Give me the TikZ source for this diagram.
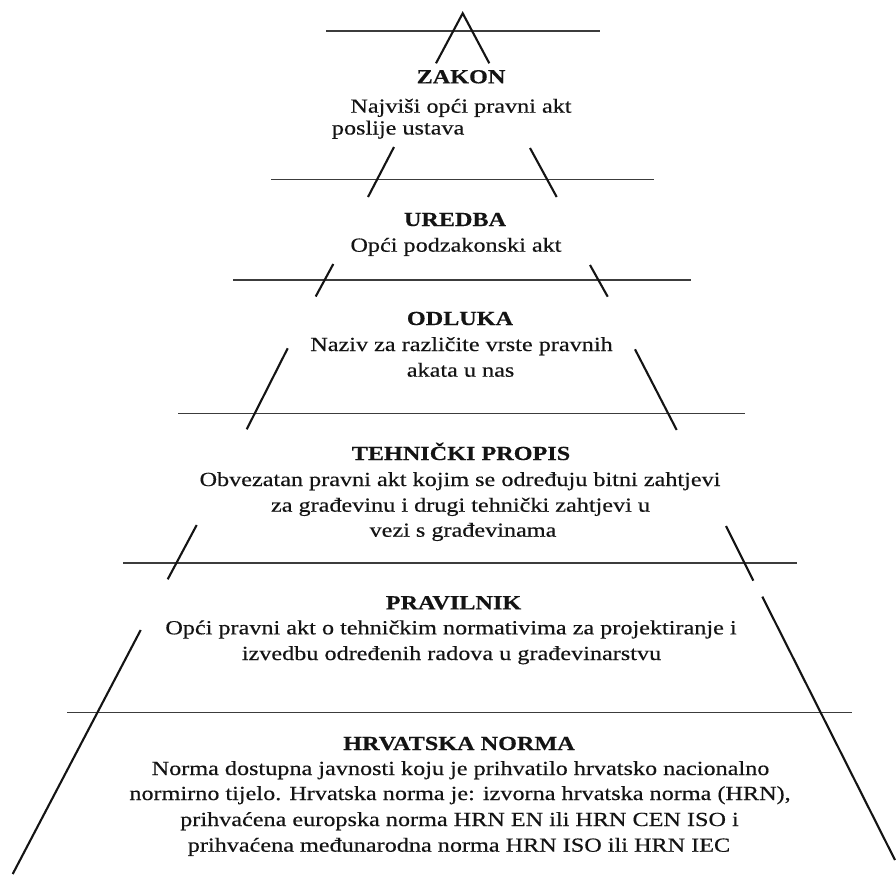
\documentclass[tikz,border=0pt]{standalone}
\usepackage{fontspec}
\setmainfont{Liberation Serif}[FakeStretch=1.21,FakeBold=0.4]
\definecolor{inkc}{HTML}{141414}
\definecolor{rulec}{HTML}{3C3C3C}
\begin{document}
\begin{tikzpicture}[x=1pt,y=-1pt,
  tier/.style={draw=rulec,line width=1.8pt},
  edge/.style={draw=inkc,line width=2.1pt},
  ttl/.style={anchor=base,inner sep=0pt,text=inkc,font=\fontsize{20pt}{25pt}\selectfont\bfseries},
  txt/.style={anchor=base,inner sep=0pt,text=inkc,font=\fontsize{20pt}{25pt}\selectfont}]
\useasboundingbox[fill=white] (0,0) rectangle (896,876);

% horizontal tiers
\draw[tier] (326,31) -- (600,31);
\draw[tier] (271,179.5) -- (654,179.5);
\draw[tier] (233,280) -- (691,280);
\draw[tier] (178,413.5) -- (745,413.5);
\draw[tier] (123,563) -- (797,563);
\draw[tier] (67,712.5) -- (852,712.5);

% slanted sides
\draw[edge] (436,63.3) -- (462.7,13.3) -- (489.3,63.3);
\draw[edge] (394,147) -- (368,197);
\draw[edge] (530,148) -- (556.7,197);
\draw[edge] (333.3,264) -- (315.7,296.5);
\draw[edge] (590,265) -- (607.7,296.7);
\draw[edge] (287.7,348.3) -- (246.7,429.3);
\draw[edge] (635,349.3) -- (676.7,430);
\draw[edge] (196.7,525) -- (167.7,579.3);
\draw[edge] (726,526) -- (753.3,580.7);
\draw[edge] (140.7,630) -- (12.7,874);
\draw[edge] (762.3,596.7) -- (895,860);

% texts
\node[ttl] (zakT) at (461,83.3) {ZAKON};
\node[txt] (zak1) at (461,112.7) {Najviši opći pravni akt};
\node[txt,anchor=base west] (zak2) at (331.7,134.5) {poslije ustava};

\node[ttl] (uredT) at (455,226) {UREDBA};
\node[txt] (ured1) at (456,251.7) {Opći podzakonski akt};

\node[ttl] (odlT) at (460,325) {ODLUKA};
\node[txt] (odl1) at (461.5,351) {Naziv za različite vrste pravnih};
\node[txt] (odl2) at (460.6,376.7) {akata u nas};

\node[ttl] (tehT) at (461,460) {TEHNIČKI PROPIS};
\node[txt] (teh1) at (460,486) {Obvezatan pravni akt kojim se određuju bitni zahtjevi};
\node[txt] (teh2) at (460.5,511.7) {za građevinu i drugi tehnički zahtjevi u};
\node[txt] (teh3) at (463,536.7) {vezi s građevinama};

\node[ttl] (pravT) at (453.5,609.3) {PRAVILNIK};
\node[txt] (prav1) at (451,634.3) {Opći pravni akt o tehničkim normativima za projektiranje i};
\node[txt] (prav2) at (451.5,660) {izvedbu određenih radova u građevinarstvu};

\node[ttl] (hrnT) at (459,750) {HRVATSKA NORMA};
\node[txt] (hrn1) at (460.5,775) {Norma dostupna javnosti koju je prihvatilo hrvatsko nacionalno};
\node[txt] (hrn2) at (460,800) {normirno tijelo. Hrvatska norma je: izvorna hrvatska norma (HRN),};
\node[txt] (hrn3) at (459.5,826) {prihvaćena europska norma HRN EN ili HRN CEN ISO i};
\node[txt] (hrn4) at (459,851.7) {prihvaćena međunarodna norma HRN ISO ili HRN IEC};
\end{tikzpicture}
\end{document}
